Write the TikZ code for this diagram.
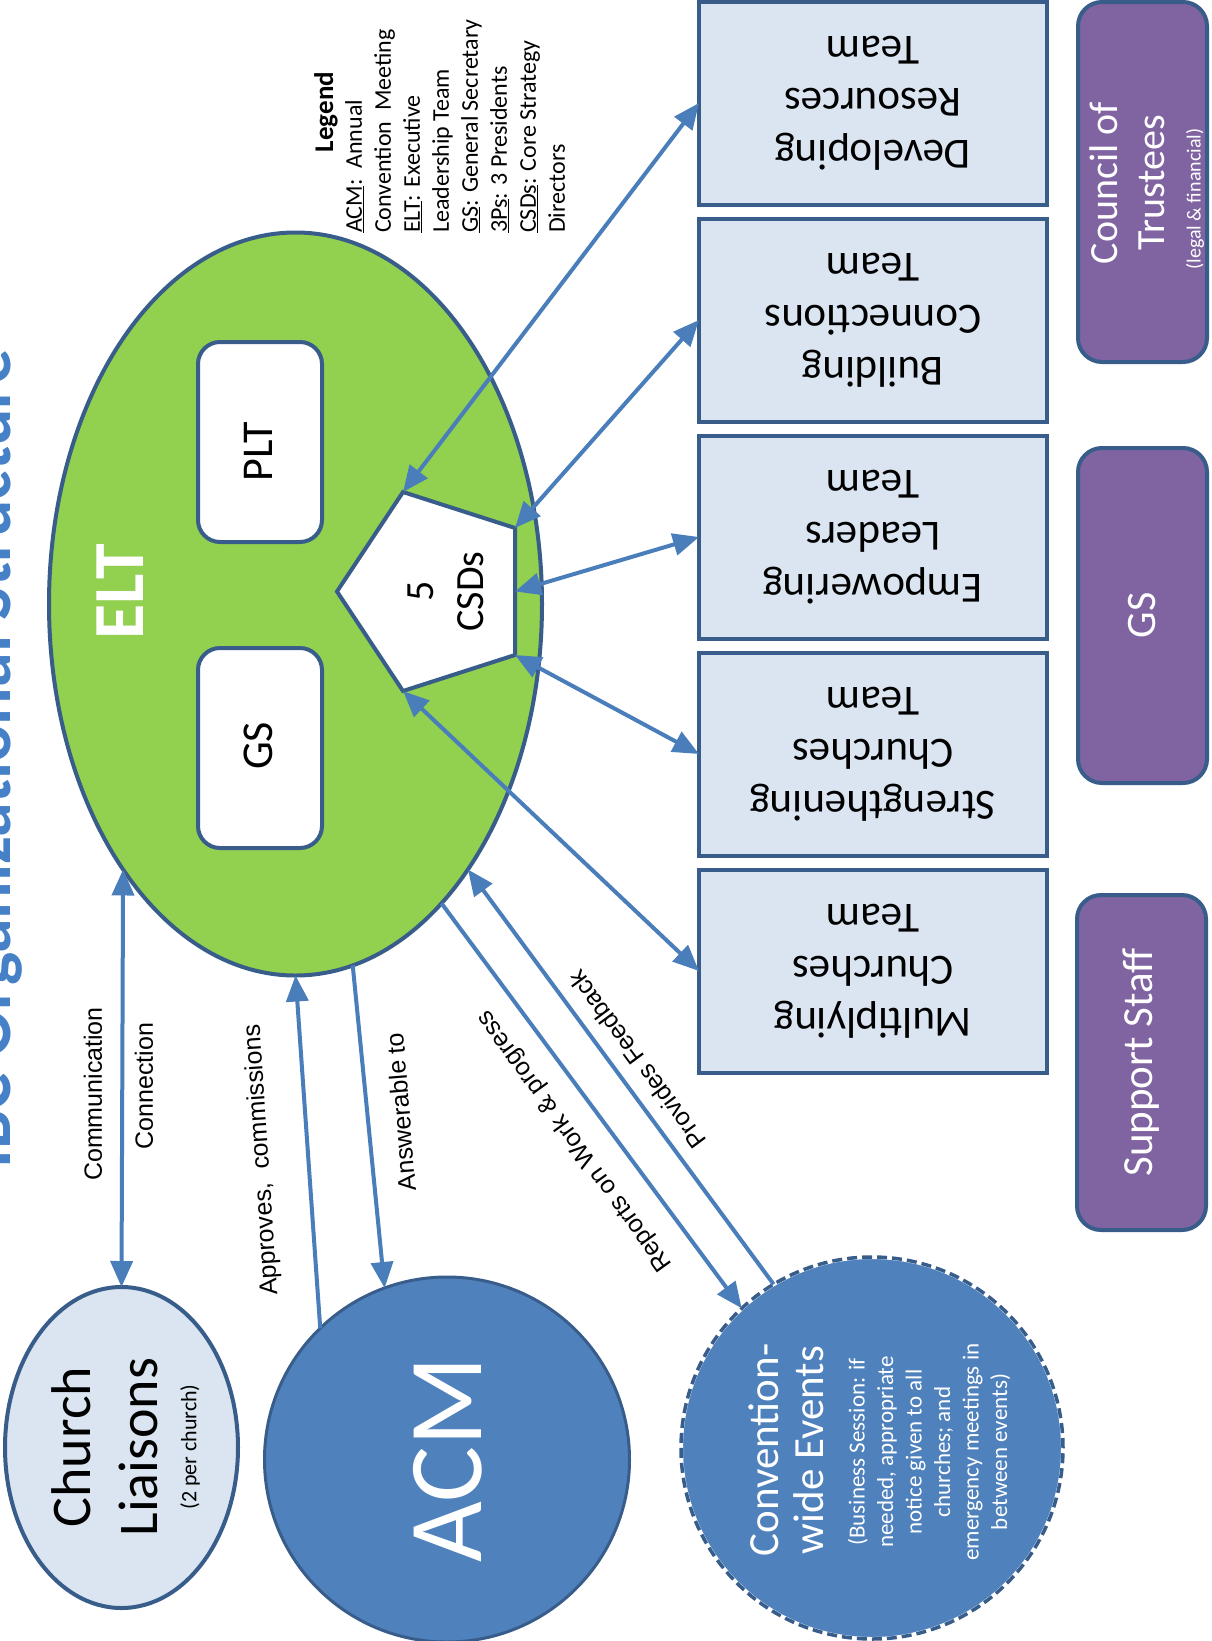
\documentclass[tikz,border=0pt]{standalone}
\usepackage{fontspec}
\setmainfont{Carlito}
\newfontfamily\arialfont{Liberation Sans}
\usetikzlibrary{shapes.geometric,arrows.meta}
\definecolor{borderblue}{RGB}{56,93,138}
\definecolor{arrowblue}{RGB}{74,126,187}
\definecolor{acmblue}{RGB}{79,129,189}
\definecolor{lightfill}{RGB}{219,229,241}
\definecolor{eltgreen}{RGB}{146,208,80}
\definecolor{purp}{RGB}{128,100,162}
\definecolor{titleblue}{RGB}{70,128,198}
\newcommand{\fsz}[2]{\fontsize{#1}{#2}\selectfont}
\tikzset{
  conn/.style={draw=arrowblue, line width=4pt},
  arr/.style={conn, -{Triangle[length=26pt,width=22pt]}},
  darr/.style={conn, {Triangle[length=26pt,width=22pt]}-{Triangle[length=26pt,width=22pt]}},
  bluerim/.style={draw=borderblue, line width=4pt, inner sep=0pt, outer sep=0pt},
  teambox/.style={bluerim, rectangle, fill=lightfill, minimum width=348pt, minimum height=203pt, rotate=180, align=center, font=\fsz{43}{52}},
  innerbox/.style={bluerim, rectangle, rounded corners=22pt, fill=white, minimum width=200pt, minimum height=124pt, rotate=90},
  innertext/.style={rotate=90, font=\fsz{44}{50}},
  purplebox/.style={bluerim, rectangle, rounded corners=24pt, fill=purp, minimum width=335pt, minimum height=129pt, rotate=90, text=white},
  linklabel/.style={font=\arialfont\fsz{25}{30}, inner sep=0pt},
}
\begin{document}
\begin{tikzpicture}[x=1pt,y=-1pt]
\useasboundingbox (0,0) rectangle (1212,1641);
\clip (0,0) rectangle (1212,1641);
\fill[white] (0,0) rectangle (1212,1641);

% title (cut by the left edge)
\node[rotate=90, anchor=base, font=\bfseries\fsz{70}{80}, text=titleblue] (title) at (10,759) {IBC Organizational Structure};

% ELT
\node[ellipse, bluerim, fill=eltgreen, minimum width=493pt, minimum height=743pt] (elt) at (295.5,604) {};
\node[rotate=90, text=white, font=\bfseries\fsz{72}{80}] (eltlabel) at (120,591.5) {ELT};
\node[innerbox] (plt) at (260,442) {};
\node[innertext] (pltlabel) at (258,452) {PLT};
\node[innerbox] (gs) at (260,748) {};
\node[innertext] (gslabel) at (258,746) {GS};

% CSDs pentagon
\coordinate (csdA) at (337,591.5);
\coordinate (csdTL) at (403,492);
\coordinate (csdTR) at (515,528);
\coordinate (csdBR) at (515,655);
\coordinate (csdBL) at (403,691);
\coordinate (csdR) at (515,591.5);
\filldraw[fill=white, draw=borderblue, line width=4pt] (csdA) -- (csdTL) -- (csdTR) -- (csdBR) -- (csdBL) -- cycle;
\node[rotate=90, align=center, font=\fsz{40}{50}] (csds) at (446,591.5) {5\\CSDs};

% Church liaisons
\node[ellipse, bluerim, fill=lightfill, minimum width=233pt, minimum height=321pt] (cl) at (121.5,1447.5) {};
\node[rotate=90, align=center, font=\fsz{56}{67}] (cltitle) at (105,1447) {Church\\Liaisons};
\node[rotate=90, font=\fsz{22}{26}] (clnote) at (190,1447) {(2 per church)};

% ACM
\node[circle, draw=borderblue, line width=3pt, fill=acmblue, minimum size=365pt, inner sep=0pt, outer sep=0pt] (acm) at (447,1459.5) {};
\node[rotate=90, text=white, font=\fsz{105}{110}] (acmlabel) at (448,1460) {ACM};

% Convention-wide events
\node[circle, fill=acmblue, draw=white, line width=4pt, minimum size=382pt, inner sep=0pt, outer sep=0pt] (events) at (872,1448) {};
\draw[borderblue, line width=3.5pt, dash pattern=on 10pt off 5pt] (events.center) circle[radius=191pt];
\node[rotate=90, text=white, align=center, font=\fsz{43}{45}] (eventstitle) at (786,1450) {Convention-\\wide Events};
\node[rotate=90, text=white, align=center, font=\fsz{23}{28.5}] (eventsnote) at (929,1452) {(Business Session: if\\needed, appropriate\\notice given to all\\churches; and\\emergency meetings in\\between events)};

% teams (rotated 180 degrees: their .east anchor is on the left)
\node[teambox] (dev) at (873,103) {Developing\\Resources\\Team};
\node[teambox] (bld) at (873,320) {Building\\Connections\\Team};
\node[teambox] (emp) at (873,537) {Empowering\\Leaders\\Team};
\node[teambox] (str) at (873,754) {Strengthening\\Churches\\Team};
\node[teambox] (mul) at (873,971) {Multiplying\\Churches\\Team};

% purple boxes
\node[purplebox, minimum width=360pt] (cot) at (1142.5,182) {};
\node[rotate=90, text=white, align=center, font=\fsz{40}{47}] (cottitle) at (1127,183) {Council of\\Trustees};
\node[rotate=90, text=white, font=\fsz{20}{24}] (cotnote) at (1195,199) {(legal \& financial)};
\node[purplebox, font=\fsz{42}{48}] (gs2) at (1142.5,615.5) {GS};
\node[purplebox, font=\fsz{43}{50}] (staff) at (1141.5,1062.5) {Support Staff};

% connectors
\draw[darr] (elt.237) -- (cl.north);
\draw[arr] (acm.134) -- (elt.south);
\draw[arr] (elt.279.3) -- (acm.110);
\draw[arr] (elt.296.4) -- (events.133.7);
\draw[arr] (events.121.5) -- (elt.303);
\draw[darr] (csdTL) -- (dev.east);
\draw[darr] (csdTR) -- (bld.east);
\draw[darr] (csdR) -- (emp.east);
\draw[darr] (csdBR) -- (str.east);
\draw[darr] (csdBL) -- (mul.east);

% connector labels
\node[linklabel, rotate=90] (lblcomm) at (93,1094) {Communication};
\node[linklabel, rotate=90] (lblconn) at (144,1086) {Connection};
\node[linklabel, rotate=93.8] (lblappr) at (262,1160) {Approves,\ \ commissions};
\node[linklabel, rotate=94.6] (lblansw) at (401,1112) {Answerable to};
\node[linklabel, rotate=125.8] (lblrep) at (575,1141) {Reports on Work \& progress};
\node[linklabel, rotate=126.5] (lblfeed) at (637,1060) {Provides Feedback};

% legend
\node[rotate=90, font=\bfseries\fsz{27}{30}] (legendtitle) at (326,112) {Legend};
\node[rotate=90, anchor=north west, align=left, inner sep=0pt, font=\fsz{24}{29}] (legend) at (345,233) {\underline{ACM}:\ \ Annual\\Convention\ \ Meeting\\\underline{ELT}: Executive\\Leadership Team\\\underline{GS}: General Secretary\\\underline{3Ps}: 3 Presidents\\\underline{CSDs}: Core Strategy\\Directors};
\end{tikzpicture}
\end{document}
